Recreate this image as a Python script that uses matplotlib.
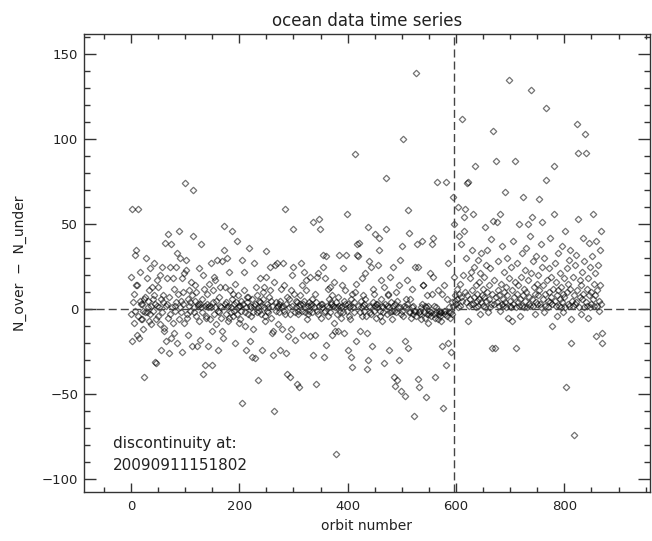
import numpy as np
import matplotlib
matplotlib.use("Agg")
import matplotlib.pyplot as plt
from matplotlib.ticker import MultipleLocator

# N_over - N_under per orbit (orbit number = index)
n_diff = [
    19, -3, 59, -19, 4, -8, 9, 32, -1, 14,
    35, 14, -15, -4, 59, -17, 5, 22, 3, -6,
    3, -6, -1, -12, -40, 6, -2, 7, 30, 18,
    -2, 5, 1, -7, 11, 24, -3, 2, -9, 13,
    6, -1, 8, 27, -31, 3, -32, -6, 17, 2,
    -4, 13, 1, 20, -9, -24, 6, 25, -2, 8,
    4, -11, -13, 39, -19, 2, 18, 3, -5, 44,
    -26, 7, 25, -3, 38, -17, 1, 18, -8, 12,
    -14, 2, -1, 25, 4, -20, 33, 9, 46, -6,
    1, 30, -2, 5, 18, -25, 10, 3, -8, 21,
    74, 23, 29, -5, -3, 6, -15, 2, 11, -1,
    4, 16, -22, 8, 70, 43, -2, 1, 5, 14,
    -4, 10, -22, 3, 2, -7, 24, 3, -18, 1,
    38, -2, 6, 20, -38, 12, 2, -33, -4, -5,
    3, 9, -22, 1, 15, 2, -6, 1, 27, -33,
    -13, 4, 11, 19, -3, 1, 17, -9, 5, 29,
    -24, -1, 7, -2, 2, 13, -5, 1, -13, 28,
    -17, 49, 35, 3, 13, 4, -3, 30, 1, -7,
    2, 22, -5, 11, 1, -2, 46, 6, -4, 9,
    -1, 3, -20, 15, 4, -3, 40, 1, 8, -8,
    2, 2, -6, 5, -1, -55, 29, 3, 22, 11,
    -2, -10, 1, -24, 7, 4, -3, 7, 36, 2,
    -19, 1, -4, -28, 6, -2, -12, 2, 27, -29,
    3, 13, -2, 8, 1, -42, 5, -1, 4, 18,
    2, -3, -24, 10, 6, 13, 1, -4, -7, 19,
    34, -1, 3, -2, 1, 7, 25, 11, 5, -5,
    -14, 2, -27, -13, 16, -60, 26, 4, -1, 1,
    27, 2, -9, 3, -2, 5, -24, 1, 12, -12,
    27, 2, -1, 14, -3, 59, -26, 3, -38, 7,
    -16, 1, 6, -3, -40, -12, 11, 2, 20, 25,
    47, 9, -2, -18, 1, 5, -44, 4, -1, -3,
    2, -46, 8, 3, 27, 14, -1, 3, -15, 22,
    5, -2, 1, 17, 11, -6, 2, -3, 4, -1,
    19, -16, 2, 3, -2, 6, -27, 51, 1, 9,
    -15, 4, -44, 19, -1, -3, 21, 2, 53, 47,
    3, -5, 3, 1, 32, 25, -2, -28, 18, -1,
    31, -21, 2, 12, -4, 6, 1, -2, 13, 4,
    3, -15, 8, 2, -8, 16, 1, -13, -85, 4,
    1, -3, 7, -13, 2, 32, -2, 1, -5, 14,
    2, 24, -2, 5, -14, 11, 3, 32, 56, -1,
    3, -24, -4, 1, -6, 2, -28, 6, -34, 9,
    1, -2, 4, 10, 91, -19, 15, 38, 32, 2,
    31, 39, -2, -13, 5, 1, 18, -4, 2, 8,
    3, -1, 21, 6, -4, -35, -14, 48, -30, 2,
    28, -2, 1, 25, -3, -22, 4, 12, 9, -1,
    2, 44, 3, -5, 3, 1, 26, 35, 42, -1,
    -4, 6, 17, 2, -7, 1, -2, 13, -32, 3,
    77, 47, 2, -3, 8, 9, -24, 1, -2, 19,
    4, -6, -1, 2, 25, -1, -40, -45, 3, 10,
    -2, -42, 5, 1, 14, -30, 29, 1, -48, -3,
    37, -1, 100, -4, 2, -51, -19, 1, 6, 17,
    3, 58, -23, 45, -2, -2, 6, -5, 1, 12,
    -3, 2, -1, -63, 25, -1, 139, -4, 38, -41,
    25, -2, -46, -1, -3, 1, -6, 40, 3, 14,
    14, -2, 2, -5, 1, -52, -3, 8, -8, 2,
    -1, -3, 21, -4, -2, 38, 9, 42, 19, -3,
    2, -40, -5, -2, 1, 75, -6, 11, -3, -1,
    -4, -2, -2, -7, 9, -22, -58, 14, -1, -3,
    -1, 75, -33, -4, 6, -20, 27, -2, 1, -5,
    -2, -25, 4, -3, 2, 66, 50, 19, 8, 5,
    3, 12, 6, 1, 60, 9, 43, 2, 15, 7,
    38, 5, 112, 20, 46, 54, 10, 59, 30, 4,
    74, 8, -7, 75, 2, 18, 6, 22, 3, 35,
    11, 3, 56, 7, 25, 84, 1, 14, 5, 9,
    29, 2, 16, 6, -3, 21, 4, 33, 8, 12,
    2, 19, 7, 1, 48, 26, 5, 35, 10, -2,
    14, 6, 1, 24, 41, 3, -23, 9, 105, 52,
    3, 17, -23, 7, 87, 51, 4, 28, 11, 2,
    8, 56, -1, 15, 3, 37, 6, 2, 22, 10,
    69, 4, 13, 1, 30, 8, -5, 18, 135, 2,
    5, 25, 1, -7, 11, 3, 40, 7, 16, 87,
    1, -23, 9, 27, 4, 14, 2, 50, 6, -4,
    19, 2, 33, 66, 8, 1, 12, 23, 5, 36,
    10, 1, 50, 17, 3, 7, 43, 2, 21, 129,
    54, 6, 28, 2, 13, -3, 9, 31, 4, 15,
    3, 20, 8, 65, 11, 3, 38, 1, 25, 51,
    6, 14, -2, 30, 9, 2, 76, 118, 17, 5,
    1, 24, 10, 4, 42, 7, 19, 3, -10, 12,
    84, 56, 5, 27, 2, 16, 8, -4, 11, 33,
    2, 21, 6, 13, 1, 37, 4, 9, -2, 18,
    7, 46, 1, -46, 24, 10, 3, 15, 2, 29,
    12, 35, -6, -20, 5, 19, 2, 8, -74, 3,
    26, 4, 32, 11, 109, 92, 53, 1, 17, 7,
    14, -3, 22, 6, 9, 42, 1, 28, 103, 4,
    92, 12, 2, 18, -5, 8, 39, 25, 1, 10,
    3, 31, 56, 6, 15, 2, 21, 8, 40, -16,
    11, 2, 26, 5, -1, 35, 14, 3, 46, -14,
    -20,
]
orbit = np.arange(len(n_diff))
discontinuity_orbit = 597
discontinuity_label = "20090911151802"

xticks = [0, 200, 400, 600, 800]
yticks = [-100, -50, 0, 50, 100, 150]

W, H = 652, 541
fig = plt.figure(figsize=(W / 100, H / 100), dpi=100)
plt.rcParams['font.family'] = ['DejaVu Sans']
L, R, T, B = 83.7, 650, 34, 492
ax = fig.add_axes([L / W, 1 - B / H, (R - L) / W, (B - T) / H])

ax.plot(orbit, n_diff, linestyle='none', marker='D', ms=3.3,
        mfc='none', mec=(0, 0, 0, 0.55), mew=0.9)

dash = (0, (5.8, 2.9))
ax.axhline(0, color='#444444', lw=1, linestyle=dash)
ax.axvline(discontinuity_orbit, color='#444444', lw=1, linestyle=dash)

ax.set_xlim(-87, 958)
ax.set_ylim(-107.6, 161.8)
ax.set_xticks(xticks)
ax.set_yticks(yticks)
ax.set_yticklabels([str(v).replace('-', '\u2212') for v in yticks])
ax.xaxis.set_minor_locator(MultipleLocator(50))
ax.yaxis.set_minor_locator(MultipleLocator(10))

for s in ax.spines.values():
    s.set_color('#333333')
    s.set_linewidth(1.0)

ax.tick_params(axis='x', which='major', direction='in', top=True, length=6.5,
               width=1, color='#333333', labelsize=9.5, pad=6, labelcolor='#222222')
ax.tick_params(axis='x', which='minor', direction='in', top=True, length=3.4,
               width=1, color='#333333')
ax.tick_params(axis='y', which='major', direction='in', right=True, length=8.5,
               width=1, color='#333333', labelsize=9.5, pad=4, labelcolor='#222222')
ax.tick_params(axis='y', which='minor', direction='in', right=True, length=4.2,
               width=1, color='#333333')

fig.text((L + R) / 2 / W, 1 - 21 / H, 'ocean data time series', ha='center',
         va='center', fontsize=12, color='#222222')
fig.text((L + R) / 2 / W, 1 - 526 / H, 'orbit number', ha='center',
         va='center', fontsize=10, color='#222222')
fig.text(20 / W, 1 - ((T + B) / 2) / H, 'N_over  \u2212  N_under', ha='center',
         va='center', fontsize=10, rotation=90, color='#222222')

ax.text(-33, -79, 'discontinuity at:', ha='left', va='center', fontsize=11,
        color='#222222')
ax.text(-33, -92, discontinuity_label, ha='left', va='center', fontsize=11,
        color='#222222')

fig.savefig('out.png', dpi=100)
